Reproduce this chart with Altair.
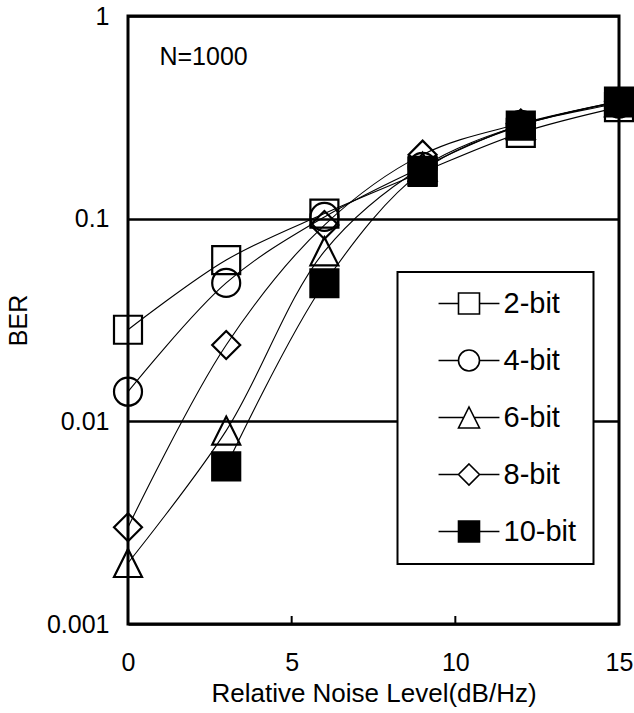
import altair as alt
import pandas as pd

# ---------------- data ----------------
x_vals = [0, 3, 6, 9, 12, 15]
series = ["2-bit", "4-bit", "6-bit", "8-bit", "10-bit"]
ber_2bit = [0.0283, 0.0625, 0.106, 0.170, 0.265, 0.355]
ber_4bit = [0.0140, 0.0482, 0.102, 0.180, 0.290, 0.370]
ber_6bit = [0.0020, 0.0090, 0.069, 0.180, 0.290, 0.375]
ber_8bit = [0.0030, 0.0238, 0.093, 0.207, 0.295, 0.380]
ber_10bit = [None, 0.0060, 0.048, 0.172, 0.288, 0.378]

x_tick_values = [0, 5, 10, 15]
inner_ticks = [5, 10]
y_tick_values = [0.001, 0.01, 0.1, 1]

note_x = [0.96]
note_y = [0.628]
note_text = ["N=1000"]

x_title = "Relative Noise Level(dB/Hz)"
y_title = "BER"

# ---------------- tables ----------------
rows = []
for name, vals in zip(series, [ber_2bit, ber_4bit, ber_6bit, ber_8bit, ber_10bit]):
    for xv, yv in zip(x_vals, vals):
        if yv is not None:
            rows.append({"series": name, "x": xv, "ber": yv})
df = pd.DataFrame(rows)
ticks_df = pd.DataFrame({"t": inner_ticks})
note_df = pd.DataFrame({"x": note_x, "y": note_y, "label": note_text})

FONT = "Liberation Sans"

# marker shapes (custom paths)
m_square = "M-1,-1H1V1H-1Z"
m_circle = "M1,0A1,1,0,1,1,-1,0A1,1,0,1,1,1,0Z"
m_tri = "M0,-1L1,1H-1Z"
m_diam = "M0,-1L1,0L0,1L-1,0Z"
marker_shapes = [m_square, m_circle, m_tri, m_diam, m_square]
marker_fills = ["transparent", "transparent", "transparent", "transparent", "black"]
marker_strokes = ["black", "black", "black", "black", "black"]

# legend symbols: line + marker
leg_square = "M-2.9,0H-1M1,0H2.9M-1,-1H1V1H-1Z"
leg_circle = "M-2.9,0H-1M1,0H2.9M1,0A1,1,0,1,1,-1,0A1,1,0,1,1,1,0Z"
leg_tri = "M-2.9,0H-0.5M0.5,0H2.9M0,-1L1,1H-1Z"
leg_diam = "M-2.9,0H-1M1,0H2.9M0,-1L1,0L0,1L-1,0Z"
legend_shapes = [leg_square, leg_circle, leg_tri, leg_diam, leg_square]

x_enc = alt.X(
    "x:Q",
    scale=alt.Scale(domain=[0, 15], nice=False, zero=False),
    axis=alt.Axis(
        values=x_tick_values, ticks=False, domain=False, grid=False,
        labelPadding=26, labelFontSize=25, labelFont=FONT, labelColor="black",
        labelFlush=False, title=x_title, titleFont=FONT, titleFontSize=26,
        titleFontWeight="normal", titleColor="black", titlePadding=5,
    ),
)
y_enc = alt.Y(
    "ber:Q",
    scale=alt.Scale(type="log", domain=[0.001, 1], nice=False),
    axis=alt.Axis(
        values=y_tick_values, format=".3~f", ticks=False, domain=False,
        grid=True, gridColor="black", gridWidth=2.7, gridOpacity=1,
        labelPadding=19, labelFontSize=25, labelFont=FONT, labelColor="black",
        labelOverlap=False, title=y_title, titleFont=FONT, titleFontSize=25,
        titleFontWeight="normal", titleColor="black", titlePadding=15,
    ),
)

base = alt.Chart(df)

lines = base.mark_line(
    color="black", strokeWidth=1.1, interpolate="catmull-rom"
).encode(x=x_enc, y=y_enc, detail="series:N", order="x:Q")

markers = base.mark_point(
    stroke="black", strokeWidth=2.2, size=784, opacity=1, fillOpacity=1
).encode(
    x="x:Q",
    y="ber:Q",
    shape=alt.Shape("series:N", scale=alt.Scale(domain=series, range=marker_shapes), legend=None),
    fill=alt.Fill("series:N", scale=alt.Scale(domain=series, range=marker_fills), legend=None),
)

leg = alt.Legend(
    title=None, orient="none", legendX=269.5, legendY=256, direction="vertical",
    strokeColor="black", fillColor="white", padding=17,
    symbolSize=441, symbolStrokeWidth=1.6, symbolStrokeColor="black", symbolOpacity=1,
    symbolOffset=40, labelOffset=20, labelFont=FONT, labelFontSize=29,
    labelColor="black", rowPadding=27, labelExpr="datum.label + '\u00a0\u00a0'",
)

legend_layer = base.transform_filter("datum.x < -100").mark_point(
    stroke="black", strokeWidth=1.6, size=441, opacity=1
).encode(
    x="x:Q",
    y="ber:Q",
    shape=alt.Shape("series:N", scale=alt.Scale(domain=series, range=legend_shapes), legend=leg),
    fill=alt.Fill("series:N", scale=alt.Scale(domain=series, range=marker_fills), legend=leg),
    stroke=alt.Stroke("series:N", scale=alt.Scale(domain=series, range=marker_strokes), legend=leg),
)

tick_marks = alt.Chart(ticks_df).mark_rule(color="black", strokeWidth=2).encode(
    x="t:Q", y=alt.value(600), y2=alt.value(608)
)

note = alt.Chart(note_df).mark_text(
    align="left", baseline="middle", font=FONT, fontSize=25, color="black"
).encode(x="x:Q", y="y:Q", text="label:N")

chart = (
    alt.layer(lines, tick_marks, note, markers, legend_layer)
    .resolve_scale(shape="independent", fill="independent", stroke="independent")
    .properties(
        width=491, height=608,
        autosize=alt.AutoSizeParams(type="none"),
        padding={"left": 128, "top": 16, "right": 15, "bottom": 89},
        background="white",
    )
    .configure_view(stroke="black", strokeWidth=3)
    .configure_legend(strokeWidth=2)
)

chart.save("out.html", embed_options={"renderer": "svg", "actions": False})
